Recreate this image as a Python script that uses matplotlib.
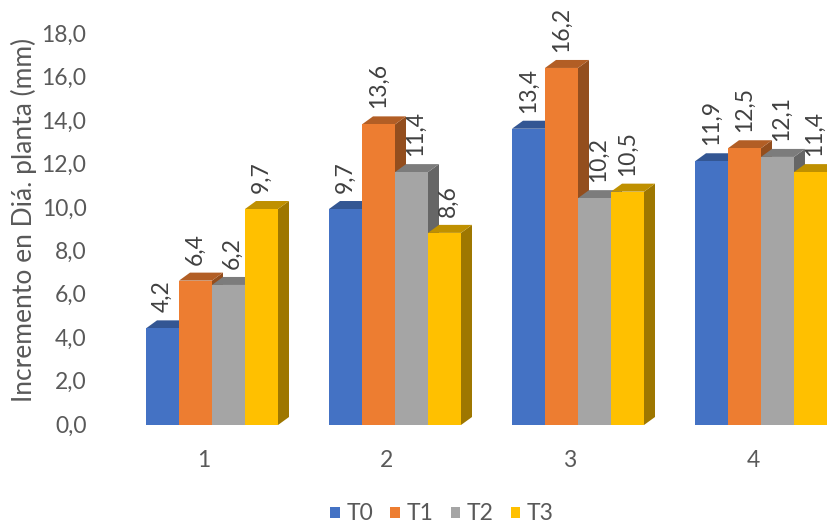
import numpy as np
import matplotlib.pyplot as plt
from matplotlib.patches import Polygon, Rectangle, Patch
from matplotlib.transforms import ScaledTranslation
from matplotlib import colors as mcolors

# Data
groups = ["1", "2", "3", "4"]
series = ["T0", "T1", "T2", "T3"]
t0 = [4.2, 9.7, 13.4, 11.9]
t1 = [6.4, 13.6, 16.2, 12.5]
t2 = [6.2, 11.4, 10.2, 12.1]
t3 = [9.7, 8.6, 10.5, 11.4]
values = [t0, t1, t2, t3]
colors = ["#4472C4", "#ED7D31", "#A5A5A5", "#FFC000"]


def shade(c, f):
    r, g, b = mcolors.to_rgb(c)
    return (r * f, g * f, b * f)


plt.rcParams['font.family'] = ['Lato', 'DejaVu Sans']

fig = plt.figure(figsize=(8.28, 5.28), dpi=100)
W, H = 828.0, 528.0
# axes placed in pixels
ax_l, ax_r, ax_t, ax_b = 92, 828, 20, 440
ax = fig.add_axes([ax_l / W, 1 - ax_b / H, (ax_r - ax_l) / W, (ax_b - ax_t) / H])

px_x = 183.0   # pixels per group
px_y = 21.7    # pixels per unit
x0_px, y0_px = 212.0, 419.5
ax.set_xlim((ax_l - x0_px) / px_x, (ax_r - x0_px) / px_x)
ax.set_ylim(-(ax_b - y0_px) / px_y, (y0_px - ax_t) / px_y)

bw = 33 / px_x          # bar width
dx = 11 / px_x          # depth x
dy = 8 / px_y           # depth y
floor = -5.5 / px_y     # bars rest slightly below zero
lab_gap = 8 / px_y
half_lab = 9 / px_x     # half the thickness of a rotated label
fs = 16.5

x = np.arange(len(groups))
for i in x:
    for j, vals in enumerate(values):
        v = vals[i]
        left = i + (j - 2) * bw
        right = left + bw
        z = 2 + j * 3
        side = Polygon([(right, floor), (right, v), (right + dx, v + dy), (right + dx, floor + dy)],
                       closed=True, facecolor=shade(colors[j], 0.62), edgecolor='none', zorder=z)
        top = Polygon([(left, v), (right, v), (right + dx, v + dy), (left + dx, v + dy)],
                      closed=True, facecolor=shade(colors[j], 0.75), edgecolor='none', zorder=z + 1)
        front = Rectangle((left, floor), bw, v - floor, facecolor=colors[j], edgecolor='none', zorder=z + 2)
        ax.add_patch(side)
        ax.add_patch(top)
        ax.add_patch(front)
        # keep the label clear of a taller left neighbour's side face
        lx = left + bw / 2
        if j > 0 and values[j - 1][i] > v:
            lx = max(lx, left + dx + half_lab)
        ax.text(lx, v + dy + lab_gap, ("%.1f" % v).replace(".", ","),
                rotation=90, ha='center', va='bottom', fontsize=fs, color='#404040', zorder=30)

ax.set_yticks(np.arange(0, 19, 2))
ax.set_yticklabels([("%.1f" % t).replace(".", ",") for t in np.arange(0, 19, 2)])
ax.set_xticks(x)
ax.set_xticklabels(groups)
ax.tick_params(axis='both', length=0, labelsize=fs, labelcolor='#595959')
ax.tick_params(axis='y', pad=4)
ax.tick_params(axis='x', pad=7)
for lab in ax.get_yticklabels():
    lab.set_transform(lab.get_transform() + ScaledTranslation(0, -0.045, fig.dpi_scale_trans))
for lab in ax.get_xticklabels():
    lab.set_transform(lab.get_transform() + ScaledTranslation(-0.08, 0, fig.dpi_scale_trans))

for s in ax.spines.values():
    s.set_visible(False)

fig.text(24 / W, 1 - 220 / H, "Incremento en Diá. planta (mm)", rotation=90,
         ha='center', va='center', fontsize=19, color='#595959')

handles = [Patch(facecolor=c, edgecolor='none') for c in colors]
fig.legend(handles, series, loc='center', bbox_to_anchor=(442 / W, 1 - 514 / H), ncol=4,
           frameon=False, fontsize=fs, handlelength=0.4, handleheight=0.4,
           handletextpad=0.3, columnspacing=0.75, labelcolor='#595959')

plt.savefig("out.png", dpi=100)
